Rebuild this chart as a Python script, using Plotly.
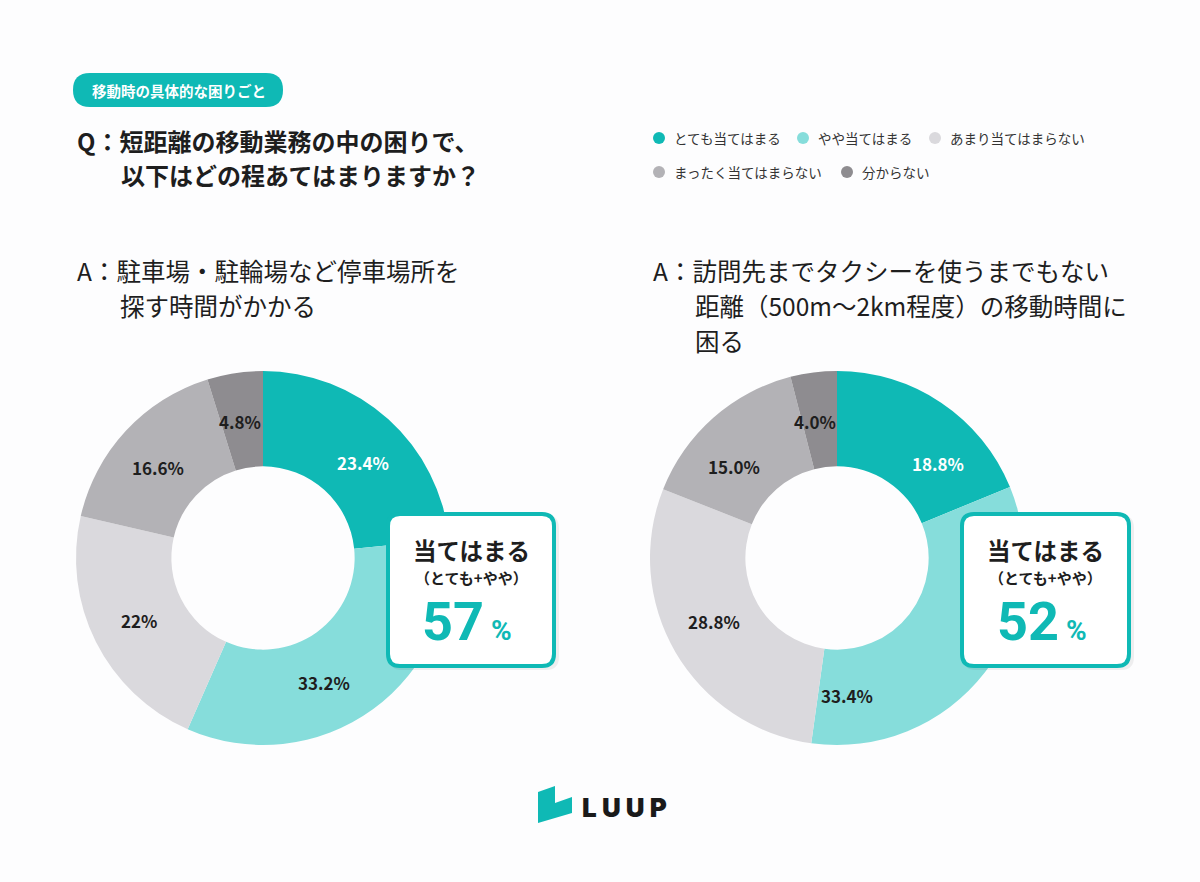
import math
import plotly.graph_objects as go

W, H = 1200, 882

categories = ["とても当てはまる", "やや当てはまる", "あまり当てはまらない", "まったく当てはまらない", "分からない"]
colors = ["#0FB9B5", "#86DDDB", "#DAD9DD", "#B3B2B6", "#8E8C90"]

left_values = [23.4, 33.2, 22.0, 16.6, 4.8]
left_text = ["23.4%", "33.2%", "22%", "16.6%", "4.8%"]
right_values = [18.8, 33.4, 28.8, 15.0, 4.0]
right_text = ["18.8%", "33.4%", "28.8%", "15.0%", "4.0%"]

left_total = "57"
right_total = "52"

badge_text = "移動時の具体的な困りごと"
question_lines = ["Q：短距離の移動業務の中の困りで、", "以下はどの程あてはまりますか？"]
left_answer = ["A：駐車場・駐輪場など停車場所を", "探す時間がかかる"]
right_answer = ["A：訪問先までタクシーを使うまでもない", "距離（500m～2km程度）の移動時間に", "困る"]

FONT = "Noto Sans CJK JP"
TEAL = "#0FB9B5"
DARK = "#1E1E1E"

# label angle nudges (degrees) so labels clear the callout boxes
left_nudge = [4, 10, 0, -2, -1]
right_nudge = [13, 48, 3, -7, -2]


def px(x):
    return x / W


def py(y):
    return 1 - y / H


def rounded_rect(x0, y0, x1, y1, r):
    pts = [
        f"M {px(x0 + r)},{py(y0)}",
        f"L {px(x1 - r)},{py(y0)}",
        f"Q {px(x1)},{py(y0)} {px(x1)},{py(y0 + r)}",
        f"L {px(x1)},{py(y1 - r)}",
        f"Q {px(x1)},{py(y1)} {px(x1 - r)},{py(y1)}",
        f"L {px(x0 + r)},{py(y1)}",
        f"Q {px(x0)},{py(y1)} {px(x0)},{py(y1 - r)}",
        f"L {px(x0)},{py(y0 + r)}",
        f"Q {px(x0)},{py(y0)} {px(x0 + r)},{py(y0)}",
        "Z",
    ]
    return " ".join(pts)


fig = go.Figure()
shapes = []
annotations = []

R = 187
HOLE = 0.49
CY = 558
for cx, vals, txt, nudge in [(263, left_values, left_text, left_nudge),
                             (837, right_values, right_text, right_nudge)]:
    fig.add_trace(go.Pie(
        labels=categories,
        values=vals,
        textinfo="none",
        hole=HOLE,
        sort=False,
        direction="clockwise",
        rotation=0,
        marker=dict(colors=colors, line=dict(width=0)),
        domain=dict(x=[px(cx - R), px(cx + R)], y=[py(CY + R), py(CY - R)]),
        showlegend=False,
        hoverinfo="label+value",
    ))
    total = sum(vals)
    cum = 0.0
    rmid = R * (1 + HOLE) / 2 - 1
    for i, (v, t) in enumerate(zip(vals, txt)):
        ang = (cum + v / 2) / total * 360 + nudge[i]
        cum += v
        a = math.radians(ang)
        lx = cx + rmid * math.sin(a)
        ly = CY - rmid * math.cos(a)
        annotations.append(dict(x=px(lx), y=py(ly), xref="paper", yref="paper",
                                text=t, showarrow=False,
                                font=dict(family=FONT, size=17, weight="bold",
                                          color="#FFFFFF" if i == 0 else DARK),
                                xanchor="center", yanchor="middle"))

# badge
shapes.append(dict(type="path", xref="paper", yref="paper",
                   path=rounded_rect(73, 73, 283, 107, 17),
                   fillcolor=TEAL, line=dict(width=0), layer="above"))
annotations.append(dict(x=px(179), y=py(90), xref="paper", yref="paper",
                        text=badge_text, showarrow=False,
                        font=dict(family=FONT, size=14.5, color="white", weight="bold"),
                        xanchor="center", yanchor="middle"))

# question
annotations.append(dict(x=px(75), y=py(140), xref="paper", yref="paper",
                        text=question_lines[0], showarrow=False,
                        font=dict(family=FONT, size=24, color=DARK, weight="bold"),
                        xanchor="left", yanchor="middle"))
annotations.append(dict(x=px(119), y=py(175), xref="paper", yref="paper",
                        text=question_lines[1], showarrow=False,
                        font=dict(family=FONT, size=24, color=DARK, weight="bold"),
                        xanchor="left", yanchor="middle"))

# legend
legend_pos = [(659, 138), (803, 138), (935, 138), (659, 172), (847, 172)]
for (lx, ly), cat, col in zip(legend_pos, categories, colors):
    shapes.append(dict(type="circle", xref="paper", yref="paper",
                       x0=px(lx - 6), x1=px(lx + 6), y0=py(ly + 6), y1=py(ly - 6),
                       fillcolor=col, line=dict(width=0)))
    annotations.append(dict(x=px(lx + 13), y=py(ly), xref="paper", yref="paper",
                            text=cat, showarrow=False,
                            font=dict(family=FONT, size=13.5, color="#333333"),
                            xanchor="left", yanchor="middle"))

# answers
ans_font = dict(family=FONT, size=24.5, color=DARK)
for i, (line, y) in enumerate(zip(left_answer, [270, 305])):
    annotations.append(dict(x=px(75 if i == 0 else 118), y=py(y), xref="paper", yref="paper",
                            text=line, showarrow=False, font=ans_font,
                            xanchor="left", yanchor="middle"))
for i, (line, y) in enumerate(zip(right_answer, [270, 305, 340])):
    annotations.append(dict(x=px(651 if i == 0 else 693), y=py(y), xref="paper", yref="paper",
                            text=line, showarrow=False, font=ans_font,
                            xanchor="left", yanchor="middle"))

# callout boxes
for bx0, bx1, total in [(386, 556, left_total), (960, 1131, right_total)]:
    bc = (bx0 + bx1) / 2
    shapes.append(dict(type="path", xref="paper", yref="paper",
                       path=rounded_rect(bx0 + 3, 515, bx1 + 3, 670, 13),
                       fillcolor="rgba(0,0,0,0.06)", line=dict(width=0), layer="above"))
    shapes.append(dict(type="path", xref="paper", yref="paper",
                       path=rounded_rect(bx0 + 2, 514, bx1 - 2, 666, 12),
                       fillcolor="white", line=dict(color=TEAL, width=4), layer="above"))
    annotations.append(dict(x=px(bc), y=py(550), xref="paper", yref="paper",
                            text="当てはまる", showarrow=False,
                            font=dict(family=FONT, size=23.5, color=DARK, weight="bold"),
                            xanchor="center", yanchor="middle"))
    annotations.append(dict(x=px(bc), y=py(577), xref="paper", yref="paper",
                            text="（とても+やや）", showarrow=False,
                            font=dict(family=FONT, size=15, color=DARK, weight="bold"),
                            xanchor="center", yanchor="middle"))
    annotations.append(dict(x=px(bc + 43), y=py(621), xref="paper", yref="paper",
                            text=f"<span style='font-size:54px'>{total}</span>"
                                 f"<span style='font-size:28px'> %</span>",
                            showarrow=False,
                            font=dict(family="Roboto", size=54, color=TEAL, weight="bold"),
                            xanchor="right", yanchor="middle"))

# logo
logo_pts = [(538, 792), (555, 786), (555, 803), (572, 797), (572, 813), (538, 823)]
path = "M " + " L ".join(f"{px(x)},{py(y)}" for x, y in logo_pts) + " Z"
shapes.append(dict(type="path", xref="paper", yref="paper", path=path,
                   fillcolor=TEAL, line=dict(width=0)))
annotations.append(dict(x=px(580), y=py(807), xref="paper", yref="paper",
                        text="L U U P", showarrow=False,
                        font=dict(family="Inter", size=26, color="#1A1A1A", weight=900),
                        xanchor="left", yanchor="middle"))

fig.update_layout(
    width=W, height=H,
    margin=dict(l=0, r=0, t=0, b=0),
    paper_bgcolor="#FDFDFE",
    plot_bgcolor="#FDFDFE",
    shapes=shapes,
    annotations=annotations,
    showlegend=False,
)

fig.write_html("out.html")
